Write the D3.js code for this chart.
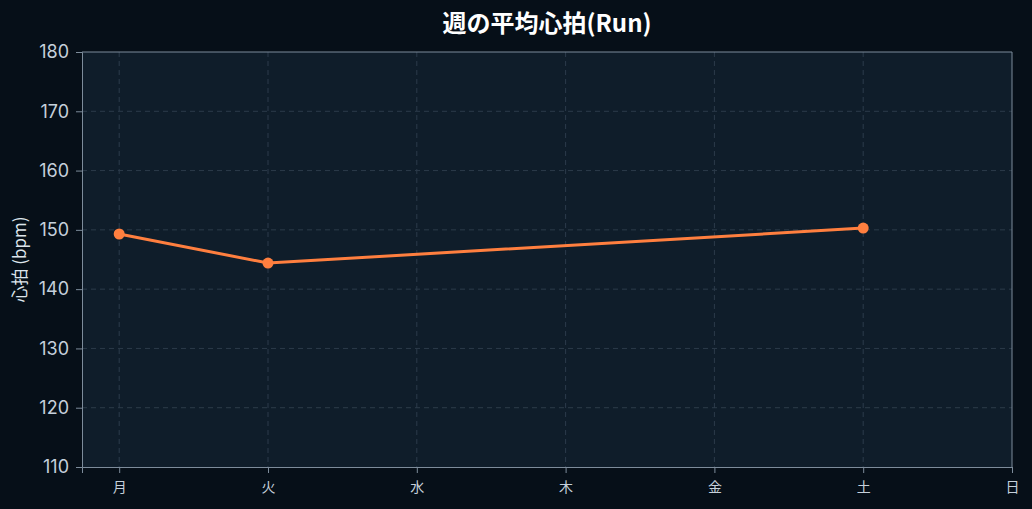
<!DOCTYPE html>
<html><head><meta charset="utf-8">
<script src="https://cdn.jsdelivr.net/npm/d3@7"></script>
<style>
html,body{margin:0;padding:0;background:#060f18;}
svg{display:block;}
</style></head>
<body>
<svg id="chart" width="1032" height="509"></svg>
<script>
const days = ["月","火","水","木","金","土","日"];
const heartRate = [149.3, 144.4, null, null, null, 150.3, null];
const yTicks = [110,120,130,140,150,160,170,180];
const title = "週の平均心拍(Run)";
const yLabel = "心拍 (bpm)";

const W = 1032, H = 509;
const m = {left:82, right:20, top:52, bottom:42};
const svg = d3.select("#chart");
svg.append("rect").attr("width",W).attr("height",H).attr("fill","#060f18");

const x = d3.scaleLinear().domain([-0.25, days.length-1]).range([m.left, W-m.right]);
const y = d3.scaleLinear().domain([110,180]).range([H-m.bottom, m.top]);

const font = "Inter, 'Noto Sans CJK JP', sans-serif";

svg.append("rect").attr("x",m.left).attr("y",m.top)
  .attr("width",W-m.left-m.right).attr("height",H-m.top-m.bottom).attr("fill","#0f1d2a");

// grid
const g = svg.append("g");
g.selectAll("line.gy").data(yTicks.slice(1,-1)).join("line")
  .attr("x1",m.left).attr("x2",W-m.right).attr("y1",d=>y(d)).attr("y2",d=>y(d))
  .attr("stroke","#2c3b4a").attr("stroke-dasharray","5,4").attr("stroke-width",1);
g.selectAll("line.gx").data(days.map((d,i)=>i).slice(0,-1)).join("line")
  .attr("y1",m.top).attr("y2",H-m.bottom).attr("x1",d=>x(d)).attr("x2",d=>x(d))
  .attr("stroke","#2c3b4a").attr("stroke-dasharray","5,4").attr("stroke-width",1);

// axes
const axisColor = "#7d8c9b";
const yAxis = svg.append("g").attr("transform",`translate(${m.left},0)`)
  .call(d3.axisLeft(y).tickValues(yTicks).tickSize(6).tickPadding(7));
yAxis.select(".domain").attr("stroke",axisColor);
yAxis.selectAll(".tick line").attr("stroke",axisColor);
yAxis.selectAll("text").attr("fill","#c5d0db").attr("font-size","18px").attr("font-family",font);

const xAxis = svg.append("g").attr("transform",`translate(0,${H-m.bottom})`)
  .call(d3.axisBottom(x).tickValues(days.map((d,i)=>i)).tickFormat(i=>days[i]).tickSize(6).tickPadding(9));
xAxis.select(".domain").attr("stroke",axisColor);
xAxis.selectAll(".tick line").attr("stroke",axisColor);
xAxis.selectAll("text").attr("fill","#c5d0db").attr("font-size","14px").attr("font-family","'Noto Sans CJK JP', sans-serif");

// top & right border
svg.append("line").attr("x1",m.left).attr("x2",W-m.right).attr("y1",m.top).attr("y2",m.top).attr("stroke",axisColor);
svg.append("line").attr("x1",W-m.right).attr("x2",W-m.right).attr("y1",m.top).attr("y2",H-m.bottom).attr("stroke",axisColor);

// line
const pts = heartRate.map((v,i)=>({i,v})).filter(d=>d.v!=null);
svg.append("path").datum(pts)
  .attr("d",d3.line().x(d=>x(d.i)).y(d=>y(d.v)))
  .attr("fill","none").attr("stroke","#ff7f3f").attr("stroke-width",3).attr("stroke-linejoin","round");
svg.selectAll("circle.pt").data(pts).join("circle")
  .attr("cx",d=>x(d.i)).attr("cy",d=>y(d.v)).attr("r",5.5).attr("fill","#ff7f3f");

// title
svg.append("text").attr("x",(m.left + W-m.right)/2).attr("y",32)
  .attr("text-anchor","middle").attr("fill","#ffffff").attr("font-weight","bold")
  .attr("font-size","24px").attr("font-family","'Noto Sans CJK JP', Inter, sans-serif").text(title);

// y label
svg.append("text").attr("transform",`translate(26,${(m.top+H-m.bottom)/2}) rotate(-90)`)
  .attr("text-anchor","middle").attr("fill","#dde5ec").attr("font-size","17px")
  .attr("font-family","'Noto Sans CJK JP', sans-serif").text(yLabel);
</script>
</body></html>
